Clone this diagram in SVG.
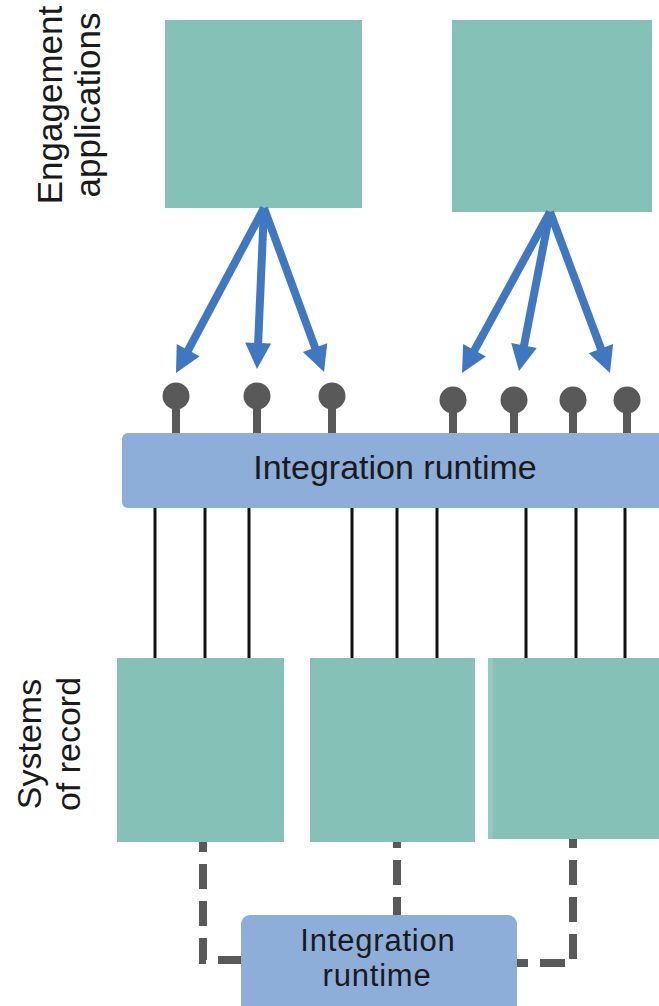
<svg xmlns="http://www.w3.org/2000/svg" width="659" height="1006" viewBox="0 0 659 1006">
<style>
.box{fill:#85C1B7}
.bar{fill:#8DAED9}
.lbl{font-family:"Liberation Sans",Arial,sans-serif;fill:#1a1a1a}
.arrow{stroke:#3F78C1;stroke-width:8;fill:none;marker-end:url(#ah)}
.pin{fill:#595959}
.stem{stroke:#595959;stroke-width:8}
.wire{stroke:#111;stroke-width:3}
.dash{stroke:#595959;stroke-width:8;fill:none;stroke-dasharray:25 12}
</style>
<defs>
<marker id="ah" markerUnits="userSpaceOnUse" markerWidth="28" markerHeight="28" viewBox="0 -14 26 28" refX="10" refY="0" orient="auto">
<path d="M0,-13 L26,0 L0,13 z" fill="#3F78C1"/>
</marker>
</defs>
<rect width="659" height="1006" fill="#fff"/>
<g id="label-engagement" class="lbl" font-size="35" text-anchor="middle">
<text transform="translate(62,105) rotate(-90)">Engagement</text>
<text transform="translate(100,105) rotate(-90)">applications</text>
</g>
<g id="label-systems" class="lbl" font-size="34" text-anchor="middle">
<text transform="translate(41,744) rotate(-90)">Systems</text>
<text transform="translate(80,744) rotate(-90)">of record</text>
</g>
<g id="engagement-app-1"><rect class="box" x="165" y="20" width="197" height="188"/></g>
<g id="engagement-app-2"><rect class="box" x="452" y="20" width="200" height="192"/></g>
<g id="connectors">
<path class="arrow" d="M264,208 L183.5,358.9"/>
<path class="arrow" d="M264,208 L257.7,353"/>
<path class="arrow" d="M264,208 L318.5,357"/>
<path class="arrow" d="M550,212 L469.7,359"/>
<path class="arrow" d="M550,212 L522.1,355.3"/>
<path class="arrow" d="M550,212 L604.4,358"/>
<g id="wires">
<line class="wire" x1="155" y1="506" x2="155" y2="659"/>
<line class="wire" x1="205" y1="506" x2="205" y2="659"/>
<line class="wire" x1="249" y1="506" x2="249" y2="659"/>
<line class="wire" x1="352" y1="506" x2="352" y2="659"/>
<line class="wire" x1="397" y1="506" x2="397" y2="659"/>
<line class="wire" x1="437" y1="506" x2="437" y2="659"/>
<line class="wire" x1="526" y1="506" x2="526" y2="659"/>
<line class="wire" x1="576" y1="506" x2="576" y2="659"/>
<line class="wire" x1="625" y1="506" x2="625" y2="659"/>
</g>
<path class="dash" stroke-dashoffset="15" d="M203,842 V960 H241"/>
<path class="dash" stroke-dashoffset="19" d="M397,842 V915"/>
<path class="dash" stroke-dashoffset="16" d="M573,839 V963 H517"/>
</g>
<g id="pins">
<line class="stem" x1="176" y1="396" x2="176" y2="434"/><circle class="pin" cx="176" cy="396" r="13.5"/>
<line class="stem" x1="257" y1="396" x2="257" y2="434"/><circle class="pin" cx="257" cy="396" r="13.5"/>
<line class="stem" x1="332" y1="396" x2="332" y2="434"/><circle class="pin" cx="332" cy="396" r="13.5"/>
<line class="stem" x1="453" y1="400" x2="453" y2="434"/><circle class="pin" cx="453" cy="400" r="13.5"/>
<line class="stem" x1="514" y1="400" x2="514" y2="434"/><circle class="pin" cx="514" cy="400" r="13.5"/>
<line class="stem" x1="573" y1="400" x2="573" y2="434"/><circle class="pin" cx="573" cy="400" r="13.5"/>
<line class="stem" x1="627" y1="400" x2="627" y2="434"/><circle class="pin" cx="627" cy="400" r="13.5"/>
</g>
<g id="integration-runtime-bar">
<rect class="bar" x="122" y="433" width="560" height="75" rx="6"/>
<text class="lbl" x="395" y="479" font-size="34" text-anchor="middle">Integration runtime</text>
</g>
<g id="system-of-record-1"><rect class="box" x="117" y="658" width="167" height="184"/></g>
<g id="system-of-record-2"><rect class="box" x="310" y="658" width="165" height="184"/></g>
<g id="system-of-record-3"><rect class="box" x="488" y="658" width="171" height="181"/><rect x="488" y="658" width="5" height="181" fill="#93C9C0"/></g>
<g id="integration-runtime-small">
<rect class="bar" x="241" y="915" width="276" height="100" rx="9"/>
<text class="lbl" x="378" y="951" font-size="31" letter-spacing="0.8" text-anchor="middle">Integration</text>
<text class="lbl" x="377" y="986" font-size="31" letter-spacing="0.8" text-anchor="middle">runtime</text>
</g>
</svg>
